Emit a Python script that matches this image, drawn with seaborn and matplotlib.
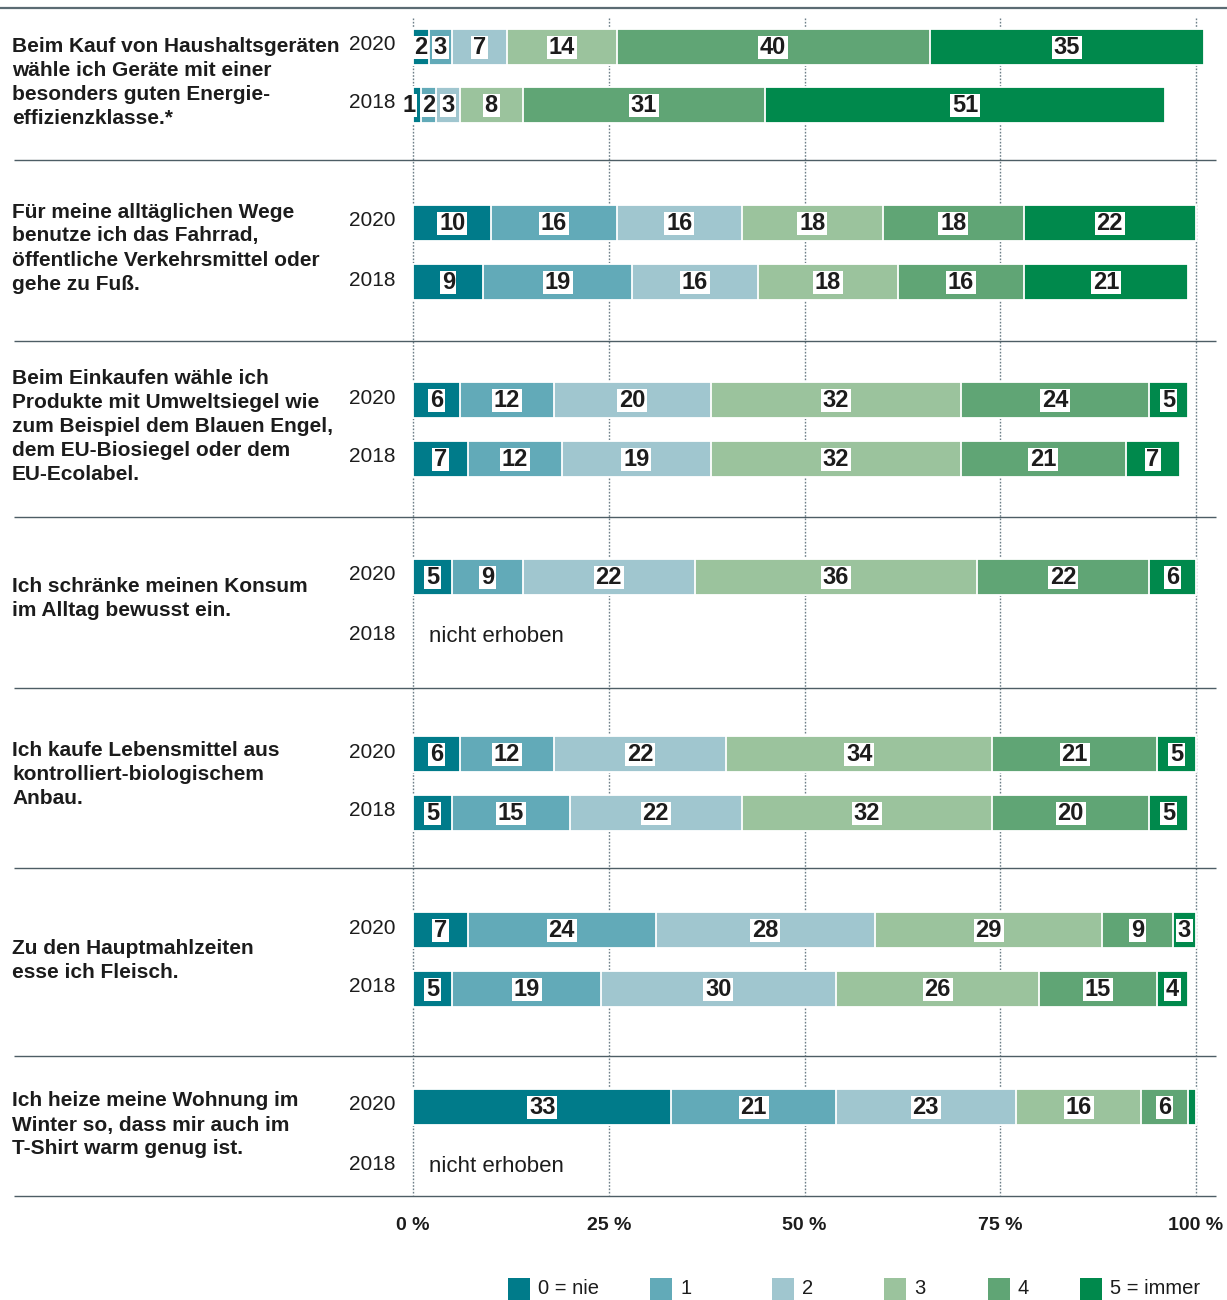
import numpy as np
import pandas as pd
import matplotlib
matplotlib.use("Agg")
import matplotlib.pyplot as plt
from matplotlib import font_manager as fm
from matplotlib.patches import Rectangle
import seaborn as sns

# ---------------- data ----------------
questions = [
    "Beim Kauf von Haushaltsgeräten\nwähle ich Geräte mit einer\nbesonders guten Energie-\neffizienzklasse.*",
    "Für meine alltäglichen Wege\nbenutze ich das Fahrrad,\nöffentliche Verkehrsmittel oder\ngehe zu Fuß.",
    "Beim Einkaufen wähle ich\nProdukte mit Umweltsiegel wie\nzum Beispiel dem Blauen Engel,\ndem EU-Biosiegel oder dem\nEU-Ecolabel.",
    "Ich schränke meinen Konsum\nim Alltag bewusst ein.",
    "Ich kaufe Lebensmittel aus\nkontrolliert-biologischem\nAnbau.",
    "Zu den Hauptmahlzeiten\nesse ich Fleisch.",
    "Ich heize meine Wohnung im\nWinter so, dass mir auch im\nT-Shirt warm genug ist.",
]
years = ["2020", "2018"]
values_2020 = [
    [2, 3, 7, 14, 40, 35],
    [10, 16, 16, 18, 18, 22],
    [6, 12, 20, 32, 24, 5],
    [5, 9, 22, 36, 22, 6],
    [6, 12, 22, 34, 21, 5],
    [7, 24, 28, 29, 9, 3],
    [33, 21, 23, 16, 6, 1],
]
values_2018 = [
    [1, 2, 3, 8, 31, 51],
    [9, 19, 16, 18, 16, 21],
    [7, 12, 19, 32, 21, 7],
    None,
    [5, 15, 22, 32, 20, 5],
    [5, 19, 30, 26, 15, 4],
    None,
]
categories = ["0 = nie", "1", "2", "3", "4", "5 = immer"]
tick_values = [0, 25, 50, 75, 100]
tick_labels = ["0 %", "25 %", "50 %", "75 %", "100 %"]
missing_text = "nicht erhoben"
unlabeled = {(6, "2020", 5)}

# ---------------- style / layout ----------------
colors = ["#007b8a", "#62aab8", "#a0c6cf", "#9bc39d", "#60a575", "#00894c"]
text_color = "#1c1c1c"
line_color = "#4d5d65"
grid_color = "#6d7f88"

bar_rows_y = [(47, 105), (223, 282), (400, 459), (577, 636), (754, 813), (930, 989), (1107, 1166)]
label_first_y = [46, 212, 379, 587, 751, 949, 1101]
separator_y = [160, 341, 517, 688, 868, 1056, 1196]
label_nudge_px = {(0, "2018", 0): -8}
X0, X100 = 413.0, 1196.0
PX = (X100 - X0) / 100.0


def px2x(px):
    return (px - X0) / PX


sns.set_theme(style="white")
names = {f.name for f in fm.fontManager.ttflist}
narrow = "Liberation Sans Narrow" if "Liberation Sans Narrow" in names else "Liberation Sans"
q_size = 16 if narrow == "Liberation Sans Narrow" else 15
plt.rcParams["font.family"] = ["Liberation Sans", "DejaVu Sans"]

W, H = 1227, 1300
fig = plt.figure(figsize=(W / 100, H / 100), dpi=100)
ax = fig.add_axes([X0 / W, 0, (X100 - X0) / W, 1])

# ---------------- build long table ----------------
rows = []
for qi in range(len(questions)):
    for yi, (yr, vals) in enumerate(zip(years, [values_2020[qi], values_2018[qi]])):
        if vals is None:
            continue
        cum = np.cumsum(vals)
        for k, v in enumerate(vals):
            rows.append(dict(q=qi, year=yr, pos=bar_rows_y[qi][yi], cat=k,
                             value=v, cum=cum[k], center=cum[k] - v / 2))
df = pd.DataFrame(rows)

positions = sorted(df["pos"].unique())
min_gap = np.min(np.diff(positions))
bar_h = 36.0

# stacked bars via layered cumulative bars
for k in reversed(range(len(categories))):
    d = df[df["cat"] == k]
    sns.barplot(data=d, x="cum", y="pos", orient="y", native_scale=True,
                color=colors[k], saturation=1, width=bar_h / min_gap,
                edgecolor="white", linewidth=1.3, errorbar=None, ax=ax, zorder=2)
for p in ax.patches:
    p.set_clip_on(False)

# value labels in white boxes
for _, r in df.iterrows():
    key = (r["q"], r["year"], r["cat"])
    if key in unlabeled:
        continue
    s = str(int(r["value"]))
    cx = r["center"] + label_nudge_px.get(key, 0) / PX
    bw = (len(s) * 13.5 + 3) / PX
    bh = 23
    ax.add_patch(Rectangle((cx - bw / 2, r["pos"] - bh / 2), bw, bh,
                           facecolor="white", edgecolor="none", zorder=3,
                           clip_on=False))
    ax.text(cx, r["pos"] + 0.5, s, ha="center", va="center", fontsize=17,
            fontweight="bold", color=text_color, zorder=4)

# dotted gridlines
ax.vlines(tick_values, 18, 1195, colors=grid_color, linestyles=(0, (1.2, 1.2)),
          linewidth=1, zorder=1, clip_on=False)

# tick labels
for tv, tl in zip(tick_values, tick_labels):
    ax.text(tv, 1225, tl, ha="center", va="center", fontsize=14, fontweight="bold",
            color=text_color)

# year labels and missing text
for qi in range(len(questions)):
    for yi, yr in enumerate(years):
        y = bar_rows_y[qi][yi]
        ax.text(px2x(396), y - 2, yr, ha="right", va="center", fontsize=15,
                color=text_color)
        vals = [values_2020[qi], values_2018[qi]][yi]
        if vals is None:
            ax.text(px2x(429), y, missing_text, ha="left", va="center",
                    fontsize=16, color=text_color)

# question labels
for qi, q in enumerate(questions):
    for li, line in enumerate(q.split("\n")):
        ax.text(px2x(12), label_first_y[qi] + 24 * li, line, ha="left", va="center",
                fontsize=q_size, fontweight="bold", family=[narrow, "DejaVu Sans"],
                color=text_color)

# separators
ax.hlines([8], px2x(0), px2x(1227), colors="#5b6b73", linewidth=1.6, clip_on=False)
ax.hlines(separator_y, px2x(14), px2x(1216), colors=line_color, linewidth=1.0,
          clip_on=False)

# legend
legend_x = [508, 650, 772, 884, 988, 1080]
for k, (lx, cname) in enumerate(zip(legend_x, categories)):
    ax.add_patch(Rectangle((px2x(lx), 1278), 22 / PX, 22, facecolor=colors[k],
                           edgecolor="none", clip_on=False))
    ax.text(px2x(lx + 30), 1289, cname, ha="left", va="center", fontsize=14.5,
            color=text_color)

ax.set_xlim(0, 100)
ax.set_ylim(H, 0)
ax.axis("off")

fig.savefig("out.png", dpi=100)
